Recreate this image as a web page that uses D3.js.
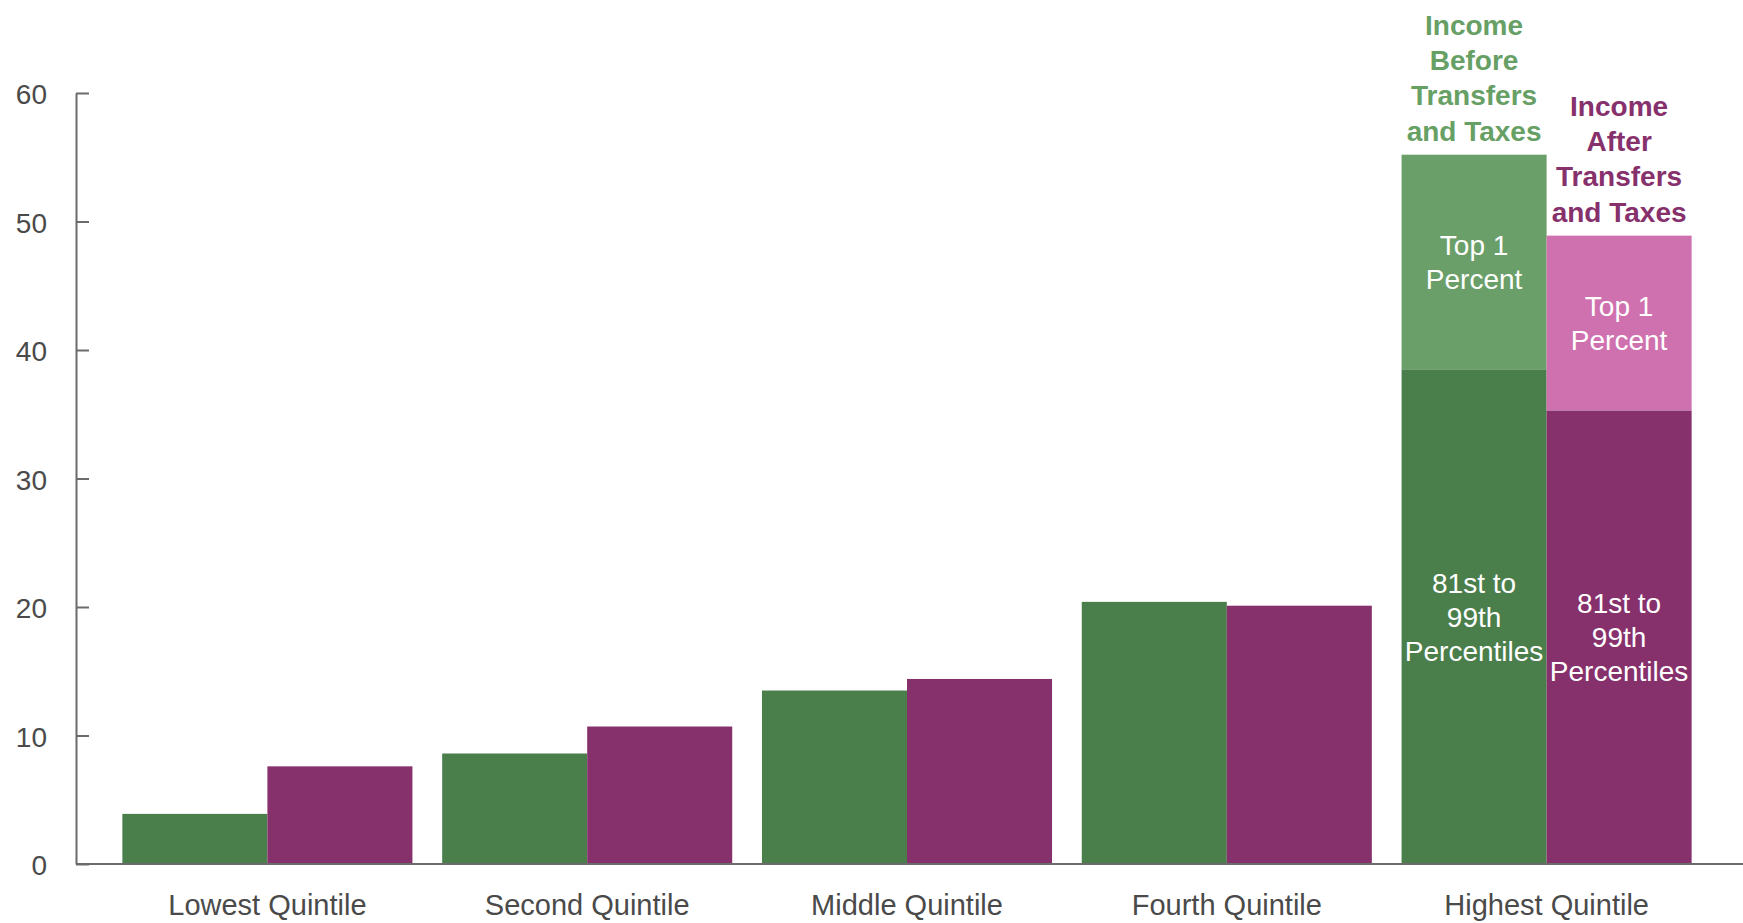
<!DOCTYPE html>
<html>
<head>
<meta charset="utf-8">
<script src="https://cdn.jsdelivr.net/npm/d3@7/dist/d3.min.js"></script>
<style>
  html, body { margin: 0; padding: 0; background: #fff; }
  svg { display: block; }
  text { font-family: "Liberation Sans", Arial, sans-serif; }
</style>
</head>
<body>
<svg id="chart" width="1743" height="923"></svg>
<script>
// Share of income by quintile, before and after transfers and taxes (percent)
const categories = ["Lowest Quintile", "Second Quintile", "Middle Quintile", "Fourth Quintile", "Highest Quintile"];
const seriesKeys = ["before", "after"];
const seriesTitles = ["Income Before Transfers and Taxes", "Income After Transfers and Taxes"];

// Main segment of each bar (for the highest quintile: 81st to 99th percentiles)
const baseBefore = [3.9, 8.6, 13.5, 20.4, 38.5];
const baseAfter  = [7.6, 10.7, 14.4, 20.1, 35.3];
// Top 1 percent, stacked on the highest quintile only
const top1Before = [0, 0, 0, 0, 16.7];
const top1After  = [0, 0, 0, 0, 13.6];

const yTicks = [0, 10, 20, 30, 40, 50, 60];

const colors = {
  before: { base: "#4a7e4b", top1: "#6b9f69", title: "#67a065" },
  after:  { base: "#86306c", top1: "#cf71af", title: "#86306c" }
};

const segmentLabels = { base: ["81st to", "99th", "Percentiles"], top1: ["Top 1", "Percent"] };

const W = 1743, H = 923;
const axisX = 76, baseY = 864, topY = 93;

const svg = d3.select("#chart");

const y = d3.scaleLinear().domain([0, 60]).range([baseY, topY]);
const x = d3.scaleBand().domain(categories).range([axisX, 1738]).paddingInner(0.093).paddingOuter(0.145);
const xs = d3.scaleBand().domain(seriesKeys).range([0, x.bandwidth()]).padding(0);

// Build rows and stack the segments
const rows = categories.map((c, i) => ({
  category: c,
  before: { base: baseBefore[i], top1: top1Before[i] },
  after: { base: baseAfter[i], top1: top1After[i] }
}));
const stack = d3.stack().keys(["base", "top1"]);

const bars = svg.append("g");
seriesKeys.forEach((s, si) => {
  const layers = stack(rows.map(r => r[s]));
  layers.forEach(layer => {
    bars.selectAll(null)
      .data(layer.map((d, i) => ({ d, i })).filter(o => o.d[1] - o.d[0] > 0))
      .join("rect")
      .attr("x", o => x(categories[o.i]) + xs(s))
      .attr("width", xs.bandwidth())
      .attr("y", o => y(o.d[1]))
      .attr("height", o => y(o.d[0]) - y(o.d[1]))
      .attr("fill", colors[s][layer.key]);

    // Labels inside the stacked segments of the highest quintile
    layer.forEach((d, i) => {
      if (top1Before[i] === 0 && top1After[i] === 0) return;
      if (d[1] - d[0] <= 0) return;
      const lines = segmentLabels[layer.key];
      const cx = x(categories[i]) + xs(s) + xs.bandwidth() / 2;
      const cy = (y(d[0]) + y(d[1])) / 2;
      const lh = 34;
      const t = svg.append("text")
        .attr("text-anchor", "middle")
        .attr("fill", "#fff")
        .attr("font-size", 28);
      lines.forEach((ln, li) => {
        t.append("tspan")
          .attr("x", cx)
          .attr("y", cy - (lines.length - 1) / 2 * lh + li * lh + 10)
          .text(ln);
      });
    });
  });

  // Series title above the tallest bar
  const last = categories.length - 1;
  const total = (s === "before" ? baseBefore[last] + top1Before[last] : baseAfter[last] + top1After[last]);
  const words = ["Income", s === "before" ? "Before" : "After", "Transfers", "and Taxes"];
  const cx = x(categories[last]) + xs(s) + xs.bandwidth() / 2;
  const lh = 35.3;
  const t = svg.append("text")
    .attr("text-anchor", "middle")
    .attr("fill", colors[s].title)
    .attr("font-size", 28)
    .attr("font-weight", "bold");
  words.forEach((w, wi) => {
    t.append("tspan")
      .attr("x", cx)
      .attr("y", y(total) - 14 - (words.length - 1 - wi) * lh)
      .text(w);
  });
});

// Y axis: ticks point inward, labels on the left
const yAxis = d3.axisLeft(y).tickValues(yTicks).tickFormat(d3.format("d"))
  .tickSizeInner(-13).tickSizeOuter(0).tickPadding(29);
const gy = svg.append("g").attr("transform", `translate(${axisX},0)`).call(yAxis);
gy.select(".domain").attr("stroke", "#6b6b6b").attr("stroke-width", 2);
gy.selectAll(".tick line").attr("stroke", "#6b6b6b").attr("stroke-width", 2);
gy.selectAll(".tick text")
  .attr("fill", "#4a4a4a")
  .attr("font-size", 28)
  .attr("font-family", "'Liberation Sans', Arial, sans-serif")
  .attr("dy", "0.38em");

// X axis baseline across the full width, with category labels
svg.append("line")
  .attr("x1", axisX).attr("x2", W)
  .attr("y1", baseY).attr("y2", baseY)
  .attr("stroke", "#6b6b6b").attr("stroke-width", 2);

const xAxis = d3.axisBottom(x).tickSize(0).tickPadding(0);
const gx = svg.append("g").attr("transform", `translate(0,${baseY})`).call(xAxis);
gx.select(".domain").remove();
gx.selectAll(".tick text")
  .attr("fill", "#4a4a4a")
  .attr("font-size", 29)
  .attr("font-family", "'Liberation Sans', Arial, sans-serif")
  .attr("dy", 0)
  .attr("y", 51);
</script>
</body>
</html>
